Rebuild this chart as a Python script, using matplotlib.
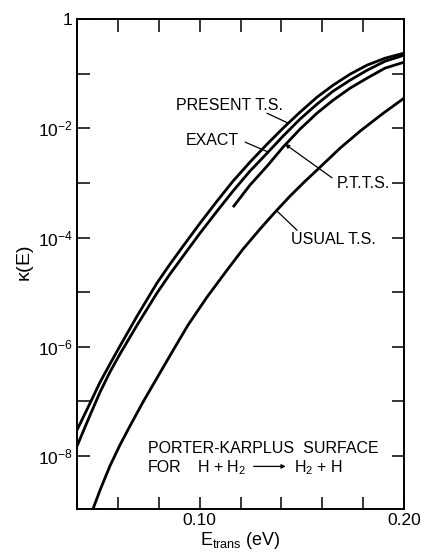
import matplotlib
matplotlib.use("Agg")
import matplotlib.pyplot as plt
from matplotlib.ticker import FixedLocator, NullLocator

plt.rcParams['font.family'] = ['Liberation Sans', 'DejaVu Sans']
plt.rcParams['mathtext.default'] = 'regular'

# 곡선 데이터 (E_trans [eV], kappa(E))
present_x = [0.0400, 0.0464, 0.0513, 0.0561, 0.0610, 0.0694, 0.0791, 0.0855,
             0.0919, 0.1002, 0.1085, 0.1163, 0.1246, 0.1330, 0.1408, 0.1491,
             0.1574, 0.1653, 0.1736, 0.1819, 0.1907, 0.2000]
present_y = [2.99e-8, 9.33e-8, 2.26e-7, 4.83e-7, 1.03e-6, 3.66e-6, 1.47e-5,
             3.27e-5, 6.99e-5, 1.84e-4, 4.66e-4, 1.08e-3, 2.41e-3, 5.15e-3,
             1.01e-2, 1.98e-2, 3.73e-2, 6.19e-2, 9.84e-2, 0.144, 0.193, 0.239]

exact_x = present_x
exact_y = [1.52e-8, 5.63e-8, 1.49e-7, 3.45e-7, 7.37e-7, 2.50e-6, 9.64e-6,
           2.15e-5, 4.58e-5, 1.21e-4, 3.05e-4, 7.10e-4, 1.65e-3, 3.52e-3,
           7.21e-3, 1.48e-2, 2.78e-2, 4.81e-2, 7.64e-2, 0.116, 0.170, 0.219]

ptts_x = [0.1163, 0.1246, 0.1330, 0.1408, 0.1491, 0.1574, 0.1653, 0.1736,
          0.1819, 0.1907, 0.2000]
ptts_y = [3.61e-4, 9.14e-4, 2.04e-3, 4.54e-3, 9.69e-3, 1.90e-2, 3.29e-2,
          5.46e-2, 8.32e-2, 0.127, 0.163]

usual_x = [0.0478, 0.0513, 0.0561, 0.0610, 0.0659, 0.0723, 0.0791, 0.0865,
           0.0943, 0.1036, 0.1134, 0.1212, 0.1295, 0.1369, 0.1442, 0.1516,
           0.1589, 0.1687, 0.1785, 0.1892, 0.2000]
usual_y = [1.07e-9, 2.39e-9, 6.56e-9, 1.59e-8, 3.54e-8, 9.75e-8, 2.68e-7,
           8.01e-7, 2.50e-6, 8.14e-6, 2.54e-5, 6.15e-5, 1.43e-4, 2.93e-4,
           5.75e-4, 1.08e-3, 1.95e-3, 4.35e-3, 8.91e-3, 1.82e-2, 3.58e-2]

x_ticks = [0.04, 0.06, 0.08, 0.10, 0.12, 0.14, 0.16, 0.18, 0.20]
x_labels = ['', '', '', '0.10', '', '', '', '', '0.20']
y_ticks = [1e-9, 1e-8, 1e-7, 1e-6, 1e-5, 1e-4, 1e-3, 1e-2, 1e-1, 1]
y_labels = ['', r'$10^{-8}$', '', r'$10^{-6}$', '', r'$10^{-4}$', '',
            r'$10^{-2}$', '', '1']

fig = plt.figure(figsize=(4.22, 5.56), dpi=100)
ax = fig.add_axes([0.1825, 0.0845, 0.775, 0.881])

lw = 2.0
for xs, ys in [(present_x, present_y), (exact_x, exact_y),
               (ptts_x, ptts_y), (usual_x, usual_y)]:
    ax.plot(xs, ys, color='black', lw=lw, solid_capstyle='butt',
            solid_joinstyle='round')

ax.set_yscale('log')
ax.set_xlim(0.04, 0.20)
ax.set_ylim(1.07e-9, 1)

ax.xaxis.set_major_locator(FixedLocator(x_ticks))
ax.set_xticklabels(x_labels)
ax.yaxis.set_major_locator(FixedLocator(y_ticks))
ax.set_yticklabels(y_labels)
ax.yaxis.set_minor_locator(NullLocator())
ax.tick_params(direction='in', length=9, width=1.1, top=True, right=True,
               labelsize=12.5, pad=3)
for s in ax.spines.values():
    s.set_linewidth(1.4)

ax.set_ylabel(r'$\kappa$(E)', fontsize=14, labelpad=1)
ax.set_xlabel(r'E$_{trans}$ (eV)', fontsize=13, labelpad=1)

fs = 11.5
line_kw = dict(arrowstyle='-', lw=0.9, color='black', shrinkA=0, shrinkB=0)
head_kw = dict(arrowstyle='-|>', lw=0.9, color='black', mutation_scale=6,
               shrinkA=0, shrinkB=0)

def leader(start, end, kw):
    ax.annotate('', xy=end, xytext=start, xycoords='axes fraction',
                textcoords='axes fraction', arrowprops=kw)

# 곡선 라벨과 지시선 (axes fraction 좌표)
ax.text(0.465, 0.824, 'PRESENT T.S.', transform=ax.transAxes,
        ha='center', va='center', fontsize=fs)
leader((0.581, 0.808), (0.645, 0.788), line_kw)

ax.text(0.413, 0.753, 'EXACT', transform=ax.transAxes,
        ha='center', va='center', fontsize=fs)
leader((0.514, 0.749), (0.584, 0.729), line_kw)

ax.text(0.875, 0.665, 'P.T.T.S.', transform=ax.transAxes,
        ha='center', va='center', fontsize=fs)
leader((0.780, 0.676), (0.636, 0.745), head_kw)

ax.text(0.783, 0.551, 'USUAL T.S.', transform=ax.transAxes,
        ha='center', va='center', fontsize=fs)
leader((0.673, 0.569), (0.612, 0.608), line_kw)

ax.text(0.217, 0.124, 'PORTER-KARPLUS  SURFACE', transform=ax.transAxes,
        ha='left', va='center', fontsize=fs)
ax.text(0.217, 0.084, 'FOR', transform=ax.transAxes,
        ha='left', va='center', fontsize=fs)
ax.text(0.367, 0.084, r'H + H$_2$', transform=ax.transAxes,
        ha='left', va='center', fontsize=fs)
leader((0.540, 0.087), (0.638, 0.087), head_kw)
ax.text(0.664, 0.084, r'H$_2$ + H', transform=ax.transAxes,
        ha='left', va='center', fontsize=fs)

plt.savefig('out.png', dpi=100)
